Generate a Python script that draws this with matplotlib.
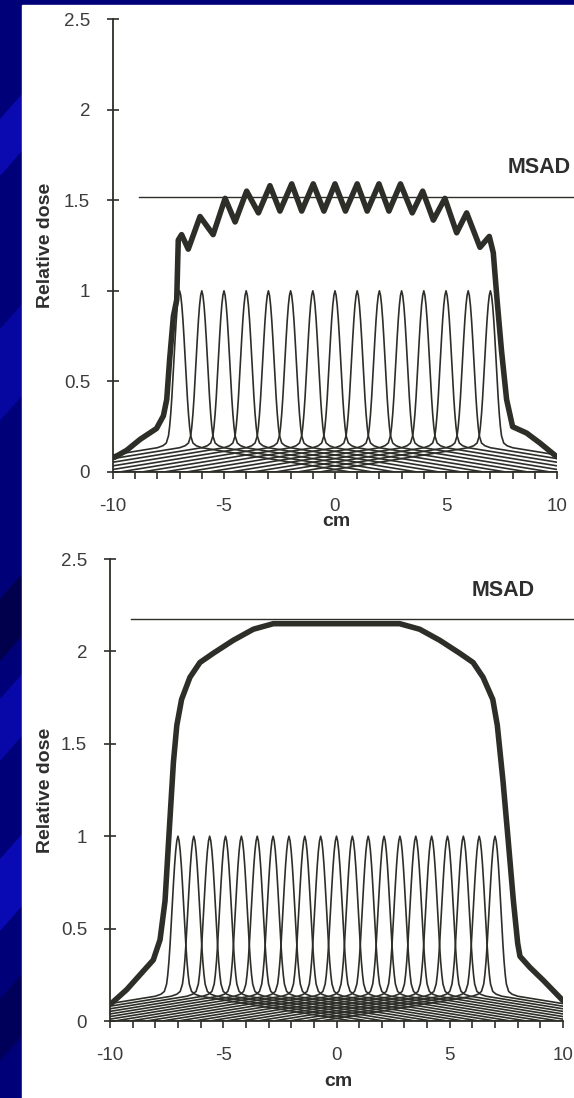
import numpy as np
import matplotlib
matplotlib.use('Agg')
import matplotlib.pyplot as plt
from matplotlib.patches import Rectangle, Polygon
from matplotlib.ticker import MultipleLocator, FixedLocator

plt.rcParams['font.family'] = ['Liberation Sans', 'DejaVu Sans']

# ---------------- data ----------------
x_tick_values = [-10, -5, 0, 5, 10]
x_tick_labels = ['-10', '-5', '0', '5', '10']
y_tick_values = [0, 0.5, 1, 1.5, 2, 2.5]
y_tick_labels = ['0', '0.5', '1', '1.5', '2', '2.5']

# single-slice dose profile: distance from slice centre (cm) -> relative dose
profile_offsets = [0.0, 0.05, 0.1, 0.15, 0.2, 0.25, 0.3, 0.35, 0.4, 0.45, 0.5,
                   0.6, 0.75, 1.0, 2.0, 3.0, 4.0, 5.0, 6.0, 7.0, 7.7, 20.0]
profile_values = [1.0, 0.975, 0.92, 0.84, 0.74, 0.63, 0.52, 0.41, 0.32, 0.25, 0.2,
                  0.16, 0.145, 0.134, 0.114, 0.094, 0.074, 0.054, 0.034, 0.014, 0.0, 0.0]

# slice centres (cm)
top_centers = [-7, -6, -5, -4, -3, -2, -1, 0, 1, 2, 3, 4, 5, 6, 7]
bottom_centers = [-7.0, -6.3, -5.6, -4.9, -4.2, -3.5, -2.8, -2.1, -1.4, -0.7, 0.0,
                  0.7, 1.4, 2.1, 2.8, 3.5, 4.2, 4.9, 5.6, 6.3, 7.0]

# composite (multiple scan) dose profiles
top_sum_x = [-9.95, -9.38, -8.78, -8.41, -8.04, -7.73, -7.58, -7.45, -7.28, -7.13,
             -7.06, -6.91, -6.61, -6.08, -5.49, -4.95, -4.5, -3.98, -3.45, -2.93,
             -2.48, -1.95, -1.5, -0.98, -0.5, 0.0, 0.47, 1.0, 1.45, 1.98, 2.43, 2.95,
             3.48, 3.95, 4.43, 4.95, 5.48, 5.93, 6.53, 6.95, 7.13, 7.3, 7.5, 7.73,
             8.0, 8.63, 9.23, 9.98]
top_sum_y = [0.08, 0.12, 0.18, 0.21, 0.24, 0.31, 0.40, 0.62, 0.86, 0.95,
             1.28, 1.31, 1.23, 1.41, 1.31, 1.51, 1.38, 1.55, 1.43, 1.58,
             1.44, 1.59, 1.44, 1.59, 1.44, 1.59, 1.44, 1.59, 1.44, 1.59, 1.44, 1.59,
             1.43, 1.55, 1.39, 1.51, 1.32, 1.43, 1.24, 1.30, 1.21, 0.95, 0.67, 0.40,
             0.25, 0.215, 0.16, 0.085]

bottom_sum_x = [-9.93, -9.26, -8.53, -8.09, -7.79, -7.57, -7.4, -7.2, -7.05, -6.84,
                -6.47, -6.03, -5.44, -4.56, -3.67, -2.79, -1.61, 0.0, 1.61, 2.79,
                3.67, 4.56, 5.44, 6.03, 6.47, 6.9, 7.1, 7.35, 7.6, 7.81, 8.0, 8.10,
                8.54, 9.13, 10.0]
bottom_sum_y = [0.096, 0.17, 0.27, 0.33, 0.44, 0.65, 1.0, 1.4, 1.6, 1.74,
                1.86, 1.94, 1.99, 2.06, 2.12, 2.15, 2.15, 2.15, 2.15, 2.15,
                2.12, 2.06, 1.99, 1.94, 1.86, 1.74, 1.6, 1.3, 0.95, 0.65, 0.42, 0.35,
                0.29, 0.22, 0.11]

top_msad = 1.52
bottom_msad = 2.175
top_msad_start = -8.83
bottom_msad_start = -9.07

# ---------------- figure ----------------
W, H = 574, 1098
fig = plt.figure(figsize=(W / 100, H / 100), dpi=100, facecolor='#000078')

# slide background stripes (left strip)
stripes = [(120, 175, '#0a0ab0'), (330, 420, '#0606a0'), (600, 660, '#00004c'),
           (700, 760, '#0808a8'), (860, 930, '#0a0ab4'), (1000, 1060, '#00005a')]
for y0, y1, c in stripes:
    fig.add_artist(Polygon([(0, 1 - y0 / H), (22 / W, 1 - (y0 - 25) / H),
                            (22 / W, 1 - (y1 - 25) / H), (0, 1 - y1 / H)],
                           closed=True, transform=fig.transFigure, color=c, zorder=-3))
fig.add_artist(Rectangle((22 / W, 0), 1 - 22 / W, 1 - 5 / H, transform=fig.transFigure,
                         color='white', zorder=-2))

line_col = '#2e2e29'
text_col = '#3c3c3c'


def make_panel(rect_px, centers, sx, sy, msad, msad_start, msad_text_xy,
               ylabel_xy, xlabel_xy):
    left, right, top, bottom = rect_px
    ax = fig.add_axes([left / W, 1 - bottom / H, (right - left) / W, (bottom - top) / H])
    ax.patch.set_alpha(0)
    ax.set_xlim(-10, 10)
    ax.set_ylim(0, 2.5)

    offs = np.array(profile_offsets)
    vals = np.array(profile_values)
    px = np.concatenate([-offs[::-1], offs[1:]])
    py = np.concatenate([vals[::-1], vals[1:]])
    for c in centers:
        ax.plot(c + px, py, color=line_col, lw=1.2, solid_joinstyle='round')

    ax.plot(sx, sy, color=line_col, lw=4.0, solid_joinstyle='round',
            solid_capstyle='round', zorder=5)

    ax.plot([msad_start, 11.5], [msad, msad], color=line_col, lw=1.0,
            clip_on=False)
    ax.text(msad_text_xy[0], msad_text_xy[1], 'MSAD', fontsize=15.5,
            fontweight='bold', color='#2e2e2e', ha='right', va='center')

    for s in ['top', 'right']:
        ax.spines[s].set_visible(False)
    for s in ['left', 'bottom']:
        ax.spines[s].set_color(line_col)
        ax.spines[s].set_linewidth(1.3)
    ax.spines['left'].set_bounds(0, 2.5)
    ax.spines['bottom'].set_bounds(-10, 10)

    ax.yaxis.set_major_locator(FixedLocator(y_tick_values))
    ax.set_yticklabels(y_tick_labels)
    ax.xaxis.set_major_locator(FixedLocator(x_tick_values))
    ax.set_xticklabels(x_tick_labels)
    ax.xaxis.set_minor_locator(MultipleLocator(1))

    ax.tick_params(axis='y', which='major', direction='inout', length=9, width=1.2,
                   pad=12, labelsize=13.5, labelcolor=text_col, color=line_col)
    ax.tick_params(axis='x', which='both', direction='out', length=5, width=1.2,
                   color=line_col)
    ax.tick_params(axis='x', which='major', pad=14, labelsize=13.5,
                   labelcolor=text_col)

    fig.text(ylabel_xy[0] / W, 1 - ylabel_xy[1] / H, 'Relative dose', rotation=90,
             fontsize=14, fontweight='bold', color='#2e2e2e', ha='center', va='center')
    fig.text(xlabel_xy[0] / W, 1 - xlabel_xy[1] / H, 'cm', fontsize=14,
             fontweight='bold', color='#2e2e2e', ha='center', va='center')
    return ax


make_panel((113, 557, 19, 472), top_centers, top_sum_x, top_sum_y, top_msad,
           top_msad_start, (10.6, 1.68), (45, 245), (336, 522))
make_panel((110, 563, 559, 1021), bottom_centers, bottom_sum_x, bottom_sum_y,
           bottom_msad, bottom_msad_start, (8.75, 2.33), (45, 790), (338, 1082))

fig.savefig('out.png', dpi=100, facecolor=fig.get_facecolor())
